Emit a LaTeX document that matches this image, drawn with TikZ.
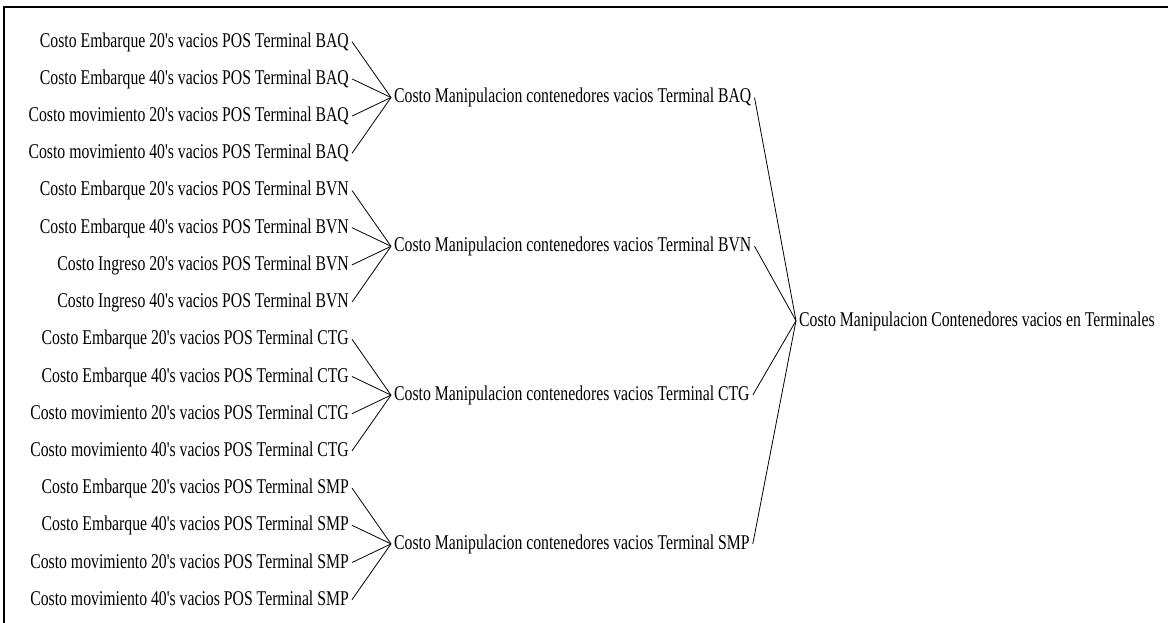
\documentclass[tikz,border=0pt]{standalone}
\usepackage{fontspec}
\setmainfont{Liberation Serif}
\newcommand{\sqz}[1]{\scalebox{0.75}[1]{#1}}
\newcommand{\ap}{\textquotesingle}
\begin{document}
\begin{tikzpicture}[x=1pt,y=-1pt,
  lbl/.style={inner xsep=3pt,inner ysep=0pt,text height=15pt,text depth=4pt,font=\fontsize{21}{24}\selectfont},
  leaf/.style={lbl,anchor=east},
  grp/.style={lbl,anchor=west},
  link/.style={line width=0.8pt}]
\useasboundingbox (0,0) rectangle (1168,623);
% frame
\draw[line width=2pt] (4,623) -- (4,7) -- (1168,7);

% first level: individual costs
\foreach \t [count=\i from 0] in {
  Costo Embarque 20\ap s vacios POS Terminal BAQ,
  Costo Embarque 40\ap s vacios POS Terminal BAQ,
  Costo movimiento 20\ap s vacios POS Terminal BAQ,
  Costo movimiento 40\ap s vacios POS Terminal BAQ,
  Costo Embarque 20\ap s vacios POS Terminal BVN,
  Costo Embarque 40\ap s vacios POS Terminal BVN,
  Costo Ingreso 20\ap s vacios POS Terminal BVN,
  Costo Ingreso 40\ap s vacios POS Terminal BVN,
  Costo Embarque 20\ap s vacios POS Terminal CTG,
  Costo Embarque 40\ap s vacios POS Terminal CTG,
  Costo movimiento 20\ap s vacios POS Terminal CTG,
  Costo movimiento 40\ap s vacios POS Terminal CTG,
  Costo Embarque 20\ap s vacios POS Terminal SMP,
  Costo Embarque 40\ap s vacios POS Terminal SMP,
  Costo movimiento 20\ap s vacios POS Terminal SMP,
  Costo movimiento 40\ap s vacios POS Terminal SMP}
  \node[leaf] (c\i) at (352,{41.7+37.2*\i}) {\sqz{\t}};

% second level: terminals
\foreach \t [count=\j from 0] in {BAQ,BVN,CTG,SMP}
  \node[grp] (g\j) at (391,{41.7+37.2*(4*\j+1.5)}) {\sqz{Costo Manipulacion contenedores vacios Terminal \t}};

% total
\node[grp] (total) at (796,320.7) {\sqz{Costo Manipulacion Contenedores vacios en Terminales}};

% connectors
\foreach \j in {0,...,3}{
  \foreach \k in {0,...,3}{
    \pgfmathtruncatemacro{\n}{4*\j+\k}
    \draw[link] (c\n.east) -- (g\j.west);
  }
  \draw[link] (g\j.east) -- (total.west);
}
\end{tikzpicture}
\end{document}
